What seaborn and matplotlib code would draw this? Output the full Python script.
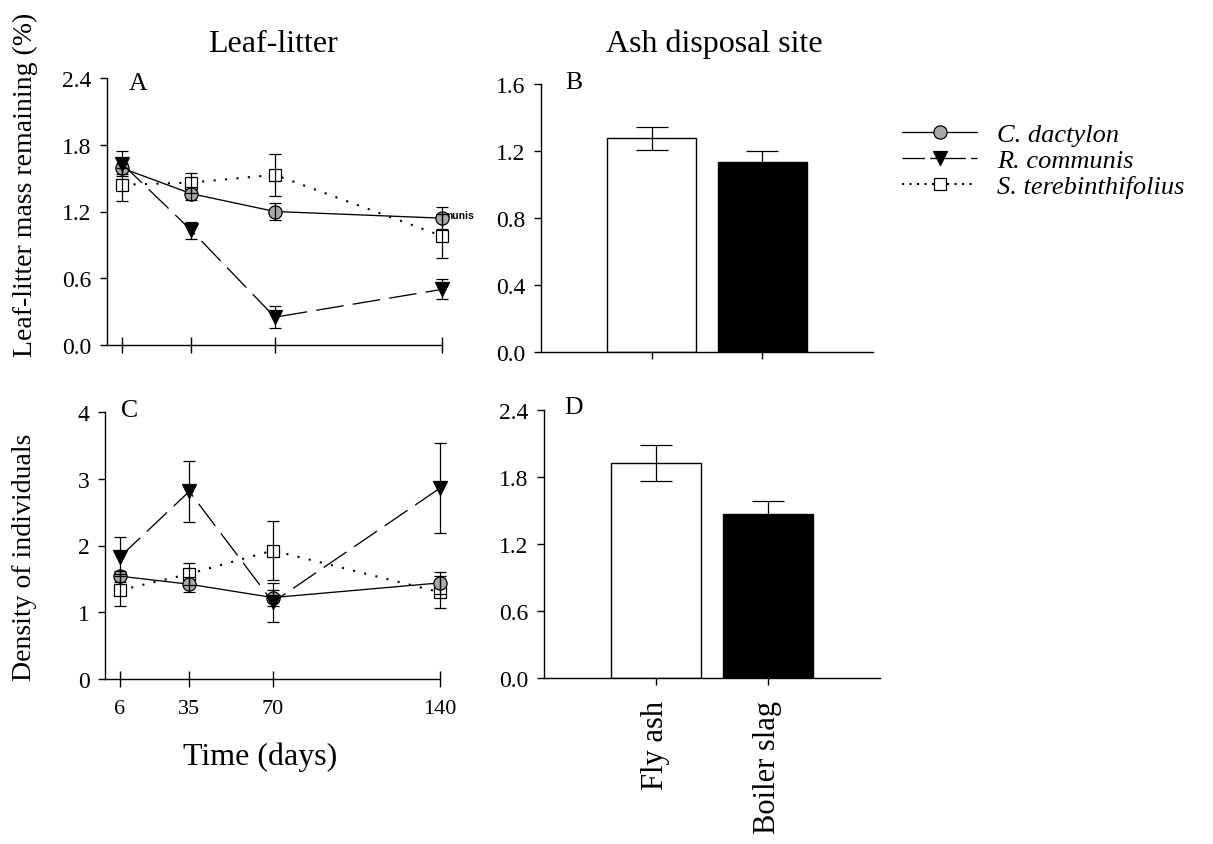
import numpy as np
import pandas as pd
import matplotlib
matplotlib.use("Agg")
import matplotlib.pyplot as plt
from matplotlib.lines import Line2D
import seaborn as sns

# ---- data -------------------------------------------------------------
days = [6, 35, 70, 140]
day_labels = ["6", "35", "70", "140"]
species = ["C. dactylon", "R. communis", "S. terebinthifolius"]

# Leaf-litter mass remaining (%) over time, mean and SE
mass_dactylon = [1.59, 1.36, 1.20, 1.14]
mass_dactylon_se = [0.05, 0.06, 0.08, 0.10]
mass_communis = [1.63, 1.03, 0.25, 0.50]
mass_communis_se = [0.11, 0.08, 0.10, 0.09]
mass_tereb = [1.44, 1.46, 1.53, 0.98]
mass_tereb_se = [0.15, 0.09, 0.19, 0.20]

# Density of individuals over time, mean and SE
dens_dactylon = [1.54, 1.42, 1.22, 1.44]
dens_dactylon_se = [0.08, 0.11, 0.12, 0.17]
dens_communis = [1.83, 2.81, 1.15, 2.86]
dens_communis_se = [0.29, 0.46, 0.29, 0.67]
dens_tereb = [1.33, 1.575, 1.925, 1.30]
dens_tereb_se = [0.24, 0.16, 0.44, 0.24]

# Ash disposal sites
sites = ["Fly ash", "Boiler slag"]
site_mass = [1.275, 1.135]
site_mass_se = [0.068, 0.067]
site_density = [1.927, 1.468]
site_density_se = [0.164, 0.12]

# ---- styling ------------------------------------------------------------
sns.set_style("ticks")
plt.rcParams["font.family"] = ["Liberation Serif", "DejaVu Serif"]
plt.rcParams["axes.linewidth"] = 1.0
plt.rcParams["axes.edgecolor"] = "black"
plt.rcParams["text.color"] = "black"
plt.rcParams["axes.labelcolor"] = "black"
plt.rcParams["xtick.color"] = "black"
plt.rcParams["ytick.color"] = "black"

W, H = 1213, 845
fig = plt.figure(figsize=(W / 100, H / 100), dpi=100)
fig.patch.set_facecolor("white")


def box(left, top, right, bottom):
    return [left / W, 1 - bottom / H, (right - left) / W, (bottom - top) / H]


def px(x, y):
    return (x / W, 1 - y / H)


styles = {
    "C. dactylon": dict(marker="o", mfc="#a9a9a9", ls="-", ms=9.5, lw=0.95,
                        legend_ls="-"),
    "R. communis": dict(marker="v", mfc="black", ls=(0, (21, 7)), ms=9.5,
                        lw=0.95, legend_ls=(0, (17, 4, 6, 4))),
    "S. terebinthifolius": dict(marker="s", mfc="white", ls=(0, (1, 4.5)),
                                ms=8.5, lw=1.5, legend_ls=(0, (1, 2.6))),
}
TICK_FS = 17

ax_a = fig.add_axes(box(107, 79, 442, 346))
ax_c = fig.add_axes(box(105, 413, 440, 680))
ax_b = fig.add_axes(box(541, 85, 873, 353))
ax_d = fig.add_axes(box(544, 411, 880, 679))


def draw_time(ax, series):
    # squares first, then circles, then triangles on top
    for name in ["S. terebinthifolius", "C. dactylon", "R. communis"]:
        vals, se = series[name]
        st = styles[name]
        sns.lineplot(x=days, y=vals, ax=ax, color="black", linewidth=st["lw"],
                     linestyle=st["ls"], marker=st["marker"],
                     markersize=st["ms"], markerfacecolor=st["mfc"],
                     markeredgecolor="black", markeredgewidth=0.9,
                     zorder=2, clip_on=False)
        eb = ax.errorbar(days, vals, yerr=se, fmt="none", ecolor="black",
                         elinewidth=0.9, capsize=4, capthick=0.9, zorder=3)
        for art in eb.lines[1] + eb.lines[2]:
            art.set_clip_on(False)
    ax.set_xlim(-0.3, 140)
    ax.set_xticks(days)
    ax.tick_params(axis="x", direction="inout", length=11, width=1.0,
                   labelsize=TICK_FS - 1, pad=9)
    ax.tick_params(axis="y", direction="out", length=5, width=1.0,
                   labelsize=TICK_FS, pad=6)
    ax.set_xlabel("")
    ax.set_ylabel("")
    sns.despine(ax=ax)


draw_time(ax_a, {
    "C. dactylon": (mass_dactylon, mass_dactylon_se),
    "R. communis": (mass_communis, mass_communis_se),
    "S. terebinthifolius": (mass_tereb, mass_tereb_se),
})
ax_a.set_ylim(0, 2.4)
ax_a.set_yticks([0.0, 0.6, 1.2, 1.8, 2.4])
ax_a.set_yticklabels([f"{v:.1f}" for v in [0.0, 0.6, 1.2, 1.8, 2.4]])
ax_a.set_xticklabels([])
ax_a.text(140.6, 1.168, "munis", family="Liberation Sans", fontsize=7.5,
          fontweight="bold", ha="left", va="center", zorder=1, clip_on=False)

draw_time(ax_c, {
    "C. dactylon": (dens_dactylon, dens_dactylon_se),
    "R. communis": (dens_communis, dens_communis_se),
    "S. terebinthifolius": (dens_tereb, dens_tereb_se),
})
ax_c.set_ylim(0, 4)
ax_c.set_yticks([0, 1, 2, 3, 4])
ax_c.set_xticklabels(day_labels)


def draw_bars(ax, vals, se, ylim, yticks):
    sns.barplot(x=sites, y=vals, hue=sites, palette=["white", "black"],
                edgecolor="black", linewidth=1.0, width=0.8, errorbar=None,
                legend=False, ax=ax)
    ax.errorbar([0, 1], vals, yerr=se, fmt="none", ecolor="black",
                elinewidth=0.9, capsize=11.5, capthick=0.9, zorder=3)
    ax.set_xlim(-1, 2)
    ax.set_ylim(*ylim)
    ax.set_yticks(yticks)
    ax.set_yticklabels([f"{v:.1f}" for v in yticks])
    ax.tick_params(axis="x", direction="out", length=5, width=1.0,
                   labelsize=22, pad=11)
    ax.tick_params(axis="y", direction="out", length=5, width=1.0,
                   labelsize=TICK_FS, pad=6)
    ax.set_xlabel("")
    ax.set_ylabel("")
    sns.despine(ax=ax)


draw_bars(ax_b, site_mass, site_mass_se, (0, 1.6), [0.0, 0.4, 0.8, 1.2, 1.6])
ax_b.set_xticks([0, 1])
ax_b.set_xticklabels([])

draw_bars(ax_d, site_density, site_density_se, (0, 2.4),
          [0.0, 0.6, 1.2, 1.8, 2.4])
ax_d.set_xticks([0, 1])
ax_d.set_xticklabels(sites, rotation=90)

# ---- titles, axis labels, panel letters ----------------------------------
fig.text(*px(273, 52), "Leaf-litter", fontsize=23, ha="center", va="baseline")
fig.text(*px(714, 52), "Ash disposal site", fontsize=23, ha="center",
         va="baseline")
fig.text(*px(25, 185), "Leaf-litter mass remaining (%)", fontsize=20,
         rotation=90, ha="center", va="center")
fig.text(*px(25, 557), "Density of individuals", fontsize=20, rotation=90,
         ha="center", va="center")
fig.text(*px(260, 757), "Time (days)", fontsize=23, ha="center", va="center")

for letter, (x, y) in zip("ABCD", [(138, 84), (574, 83), (130, 411),
                                   (574, 408)]):
    fig.text(*px(x, y), letter, fontsize=18.5, ha="center", va="center")

# ---- legend ------------------------------------------------------------
handles = []
for name in species:
    st = styles[name]
    handles.append(Line2D([], [], color="black", linewidth=st["lw"],
                          linestyle=st["legend_ls"], marker=st["marker"],
                          markersize=st["ms"], markerfacecolor=st["mfc"],
                          markeredgecolor="black", markeredgewidth=0.9))
leg = fig.legend(handles, species, loc="upper left",
                 bbox_to_anchor=px(902, 124), frameon=False, borderpad=0,
                 borderaxespad=0, handlelength=2.85, handletextpad=0.75,
                 labelspacing=0.09, numpoints=1,
                 prop={"family": "Liberation Serif", "style": "italic",
                       "size": 19})

fig.savefig("out.png", dpi=100, facecolor="white")
